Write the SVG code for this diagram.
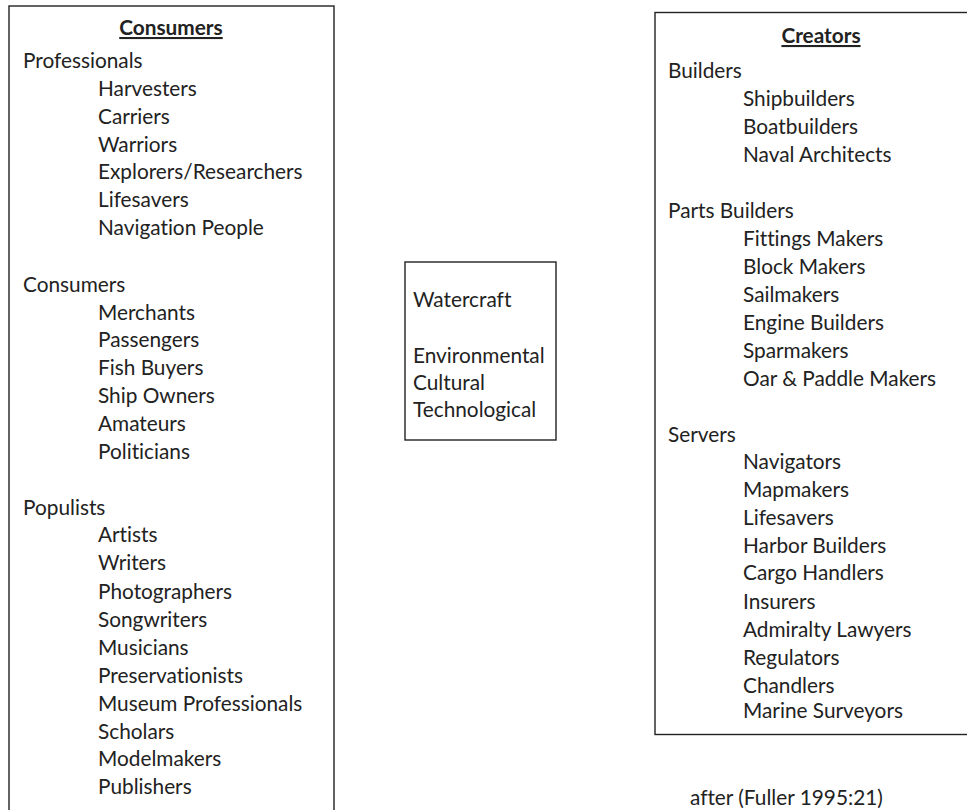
<svg xmlns="http://www.w3.org/2000/svg" width="967" height="810" viewBox="0 0 967 810">
<style>
  text { font-family: Lato, "Liberation Sans", sans-serif; font-size: 20.8px; fill: #222; font-variant-ligatures: none; }
  .title { font-weight: bold; text-decoration: underline; text-anchor: middle; }
  .box { fill: none; stroke: #222; stroke-width: 1.4; }
</style>
<rect width="967" height="810" fill="#fff"/>
<g id="consumers">
  <rect class="box" x="9" y="6" width="325" height="815"/>
  <text class="title" x="171" y="35">Consumers</text>
  <text x="23" y="68">Professionals</text>
  <text x="98" y="96">Harvesters</text>
  <text x="98" y="124">Carriers</text>
  <text x="98" y="152">Warriors</text>
  <text x="98" y="179">Explorers/Researchers</text>
  <text x="98" y="207">Lifesavers</text>
  <text x="98" y="235">Navigation People</text>
  <text x="23" y="292">Consumers</text>
  <text x="98" y="320">Merchants</text>
  <text x="98" y="347">Passengers</text>
  <text x="98" y="375">Fish Buyers</text>
  <text x="98" y="403">Ship Owners</text>
  <text x="98" y="431">Amateurs</text>
  <text x="98" y="459">Politicians</text>
  <text x="23" y="515">Populists</text>
  <text x="98" y="542">Artists</text>
  <text x="98" y="570">Writers</text>
  <text x="98" y="599">Photographers</text>
  <text x="98" y="627">Songwriters</text>
  <text x="98" y="655">Musicians</text>
  <text x="98" y="683">Preservationists</text>
  <text x="98" y="711">Museum Professionals</text>
  <text x="98" y="739">Scholars</text>
  <text x="98" y="766">Modelmakers</text>
  <text x="98" y="794">Publishers</text>
</g>
<g id="watercraft">
  <rect class="box" x="405" y="262" width="151" height="178"/>
  <text x="413" y="307">Watercraft</text>
  <text x="413" y="363">Environmental</text>
  <text x="413" y="390">Cultural</text>
  <text x="413" y="417">Technological</text>
</g>
<g id="creators">
  <rect class="box" x="655" y="12.5" width="320" height="722"/>
  <text class="title" x="821" y="43">Creators</text>
  <text x="668" y="78">Builders</text>
  <text x="743" y="106">Shipbuilders</text>
  <text x="743" y="134">Boatbuilders</text>
  <text x="743" y="162">Naval Architects</text>
  <text x="668" y="218">Parts Builders</text>
  <text x="743" y="246">Fittings Makers</text>
  <text x="743" y="274">Block Makers</text>
  <text x="743" y="302">Sailmakers</text>
  <text x="743" y="330">Engine Builders</text>
  <text x="743" y="358">Sparmakers</text>
  <text x="743" y="386">Oar &amp; Paddle Makers</text>
  <text x="668" y="442">Servers</text>
  <text x="743" y="469">Navigators</text>
  <text x="743" y="497">Mapmakers</text>
  <text x="743" y="525">Lifesavers</text>
  <text x="743" y="553">Harbor Builders</text>
  <text x="743" y="580">Cargo Handlers</text>
  <text x="743" y="609">Insurers</text>
  <text x="743" y="637">Admiralty Lawyers</text>
  <text x="743" y="665">Regulators</text>
  <text x="743" y="693">Chandlers</text>
  <text x="743" y="718">Marine Surveyors</text>
</g>
<text id="caption" x="690" y="805">after (Fuller 1995:21)</text>
</svg>
